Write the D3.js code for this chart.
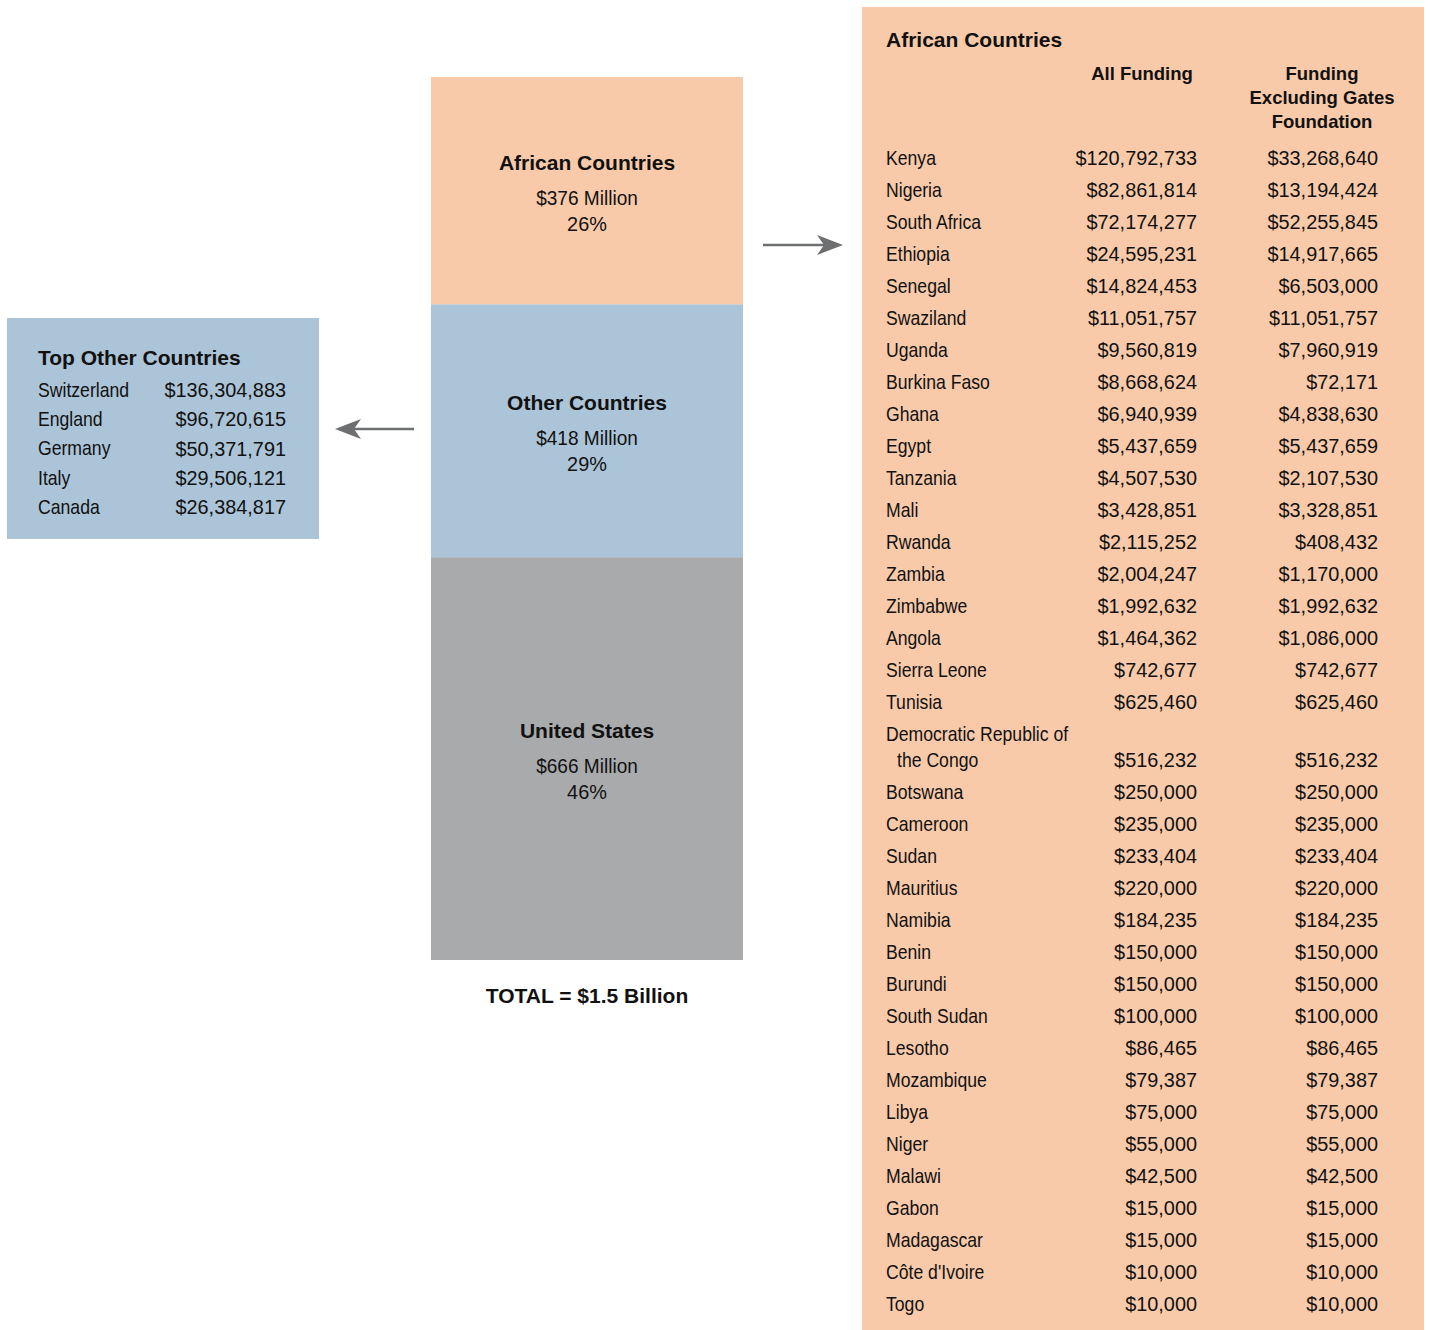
<!DOCTYPE html>
<html><head><meta charset="utf-8">
<script src="https://cdn.jsdelivr.net/npm/d3@7"></script>
<style>
body{margin:0;background:#fff;}
svg{display:block;}
text{fill:#111;}
.reg{font-family:"Liberation Sans",Arial,sans-serif;font-size:20.5px;}
.bold{font-family:"Liberation Sans",Arial,sans-serif;font-weight:bold;}
</style></head>
<body>
<svg id="c" width="1430" height="1330"></svg>
<script>
// ---- data ----
const barCategories = ["African Countries", "Other Countries", "United States"];
const barValues = [376, 418, 666];            // $ Million
const barPercents = ["26%", "29%", "46%"];
const barColors = ["#f8caa9", "#abc4d7", "#a9aaac"];
const totalLabel = "TOTAL = $1.5 Billion";

const otherCountries = ["Switzerland", "England", "Germany", "Italy", "Canada"];
const otherFunding = [136304883, 96720615, 50371791, 29506121, 26384817];

const africanCountries = ["Kenya","Nigeria","South Africa","Ethiopia","Senegal","Swaziland","Uganda","Burkina Faso","Ghana","Egypt","Tanzania","Mali","Rwanda","Zambia","Zimbabwe","Angola","Sierra Leone","Tunisia","Democratic Republic of|the Congo","Botswana","Cameroon","Sudan","Mauritius","Namibia","Benin","Burundi","South Sudan","Lesotho","Mozambique","Libya","Niger","Malawi","Gabon","Madagascar","Côte d'Ivoire","Togo"];
const africanAll = [120792733,82861814,72174277,24595231,14824453,11051757,9560819,8668624,6940939,5437659,4507530,3428851,2115252,2004247,1992632,1464362,742677,625460,516232,250000,235000,233404,220000,184235,150000,150000,100000,86465,79387,75000,55000,42500,15000,15000,10000,10000];
const africanExGates = [33268640,13194424,52255845,14917665,6503000,11051757,7960919,72171,4838630,5437659,2107530,3328851,408432,1170000,1992632,1086000,742677,625460,516232,250000,235000,233404,220000,184235,150000,150000,100000,86465,79387,75000,55000,42500,15000,15000,10000,10000];
const tableHeaders = ["All Funding", "Funding|Excluding Gates|Foundation"];

const fmt = d3.format("$,");
const svg = d3.select("#c");
const grey = "#6e6f71";

// condensed text helper (horizontal squeeze to mimic a condensed face)
function txt(g, x, yy, s, sx, anchor) {
  return g.append("text").attr("class", "reg")
    .attr("transform", `translate(${x},${yy}) scale(${sx},1)`)
    .attr("text-anchor", anchor || "start").attr("dominant-baseline", "central").text(s);
}
const SX_NAME = 0.86, SX_NUM = 0.97, SX_MIX = 0.93;

// ---- central stacked bar ----
const total = d3.sum(barValues);
const y = d3.scaleLinear().domain([0, total]).range([77, 960]);
const x = d3.scaleBand().domain(["bar"]).range([431, 743]).padding(0);
let cum = 0;
const segs = barValues.map((v, i) => { const s = {i, y0: cum, y1: cum + v}; cum += v; return s; });
const bar = svg.append("g");
bar.selectAll("rect").data(segs).join("rect")
  .attr("x", x("bar")).attr("width", x.bandwidth())
  .attr("y", d => y(d.y0)).attr("height", d => y(d.y1) - y(d.y0))
  .attr("fill", d => barColors[d.i]);
const cx = x("bar") + x.bandwidth() / 2;
segs.forEach(d => {
  const mid = (y(d.y0) + y(d.y1)) / 2;
  bar.append("text").attr("class", "bold").attr("font-size", 21).attr("text-anchor", "middle")
    .attr("x", cx).attr("y", mid - 28).attr("dominant-baseline", "central").text(barCategories[d.i]);
  txt(bar, cx, mid + 7, "$" + barValues[d.i] + " Million", SX_MIX, "middle");
  txt(bar, cx, mid + 33, barPercents[d.i], SX_NUM, "middle");
});
svg.append("text").attr("class", "bold").attr("font-size", 21).attr("text-anchor", "middle")
  .attr("x", cx).attr("y", 995).attr("dominant-baseline", "central").text(totalLabel);

// ---- arrows ----
function arrow(x1, x2, yy) {
  const dir = Math.sign(x2 - x1);
  const g = svg.append("g");
  g.append("line").attr("x1", x1).attr("x2", x2 - dir * 12).attr("y1", yy).attr("y2", yy)
    .attr("stroke", grey).attr("stroke-width", 2.5);
  g.append("path").attr("fill", grey)
    .attr("d", `M${x2},${yy} L${x2 - dir * 26},${yy - 10} L${x2 - dir * 19},${yy} L${x2 - dir * 26},${yy + 10} Z`);
}
arrow(414, 335, 429);
arrow(763, 843, 245);

// ---- left box: top other countries ----
const lb = svg.append("g");
lb.append("rect").attr("x", 7).attr("y", 318).attr("width", 312).attr("height", 221).attr("fill", barColors[1]);
lb.append("text").attr("class", "bold").attr("font-size", 21).attr("x", 38).attr("y", 357)
  .attr("dominant-baseline", "central").text("Top Other Countries");
const yl = d3.scalePoint().domain(otherCountries).range([390, 507]);
otherCountries.forEach((c, i) => {
  txt(lb, 38, yl(c), c, SX_NAME);
  txt(lb, 286, yl(c), fmt(otherFunding[i]), SX_NUM, "end");
});

// ---- right panel: african countries table ----
const rp = svg.append("g");
rp.append("rect").attr("x", 862).attr("y", 7).attr("width", 562).attr("height", 1330).attr("fill", barColors[0]);
rp.append("text").attr("class", "bold").attr("font-size", 21).attr("x", 886).attr("y", 39)
  .attr("dominant-baseline", "central").text("African Countries");
const hdrX = [1142, 1322];
tableHeaders.forEach((h, i) => {
  h.split("|").forEach((ln, j) => {
    rp.append("text").attr("class", "bold").attr("font-size", 18.5).attr("text-anchor", "middle")
      .attr("x", hdrX[i]).attr("y", 73 + j * 24).attr("dominant-baseline", "central").text(ln);
  });
});
// slot positions: multi-line names take extra space
const lineGap = 26 / 32;
let slot = 0;
const slots = africanCountries.map(c => { const s = slot; slot += 1 + (c.split("|").length - 1) * lineGap; return s; });
const yr = d3.scaleLinear().domain([0, 1]).range([158, 190]);
africanCountries.forEach((c, i) => {
  const parts = c.split("|");
  const y0 = yr(slots[i]);
  parts.forEach((p, j) => txt(rp, j ? 897 : 886, y0 + j * 26, p, SX_NAME));
  const yv = y0 + (parts.length - 1) * 26;
  txt(rp, 1197, yv, fmt(africanAll[i]), SX_NUM, "end");
  txt(rp, 1378, yv, fmt(africanExGates[i]), SX_NUM, "end");
});
</script>
</body></html>
